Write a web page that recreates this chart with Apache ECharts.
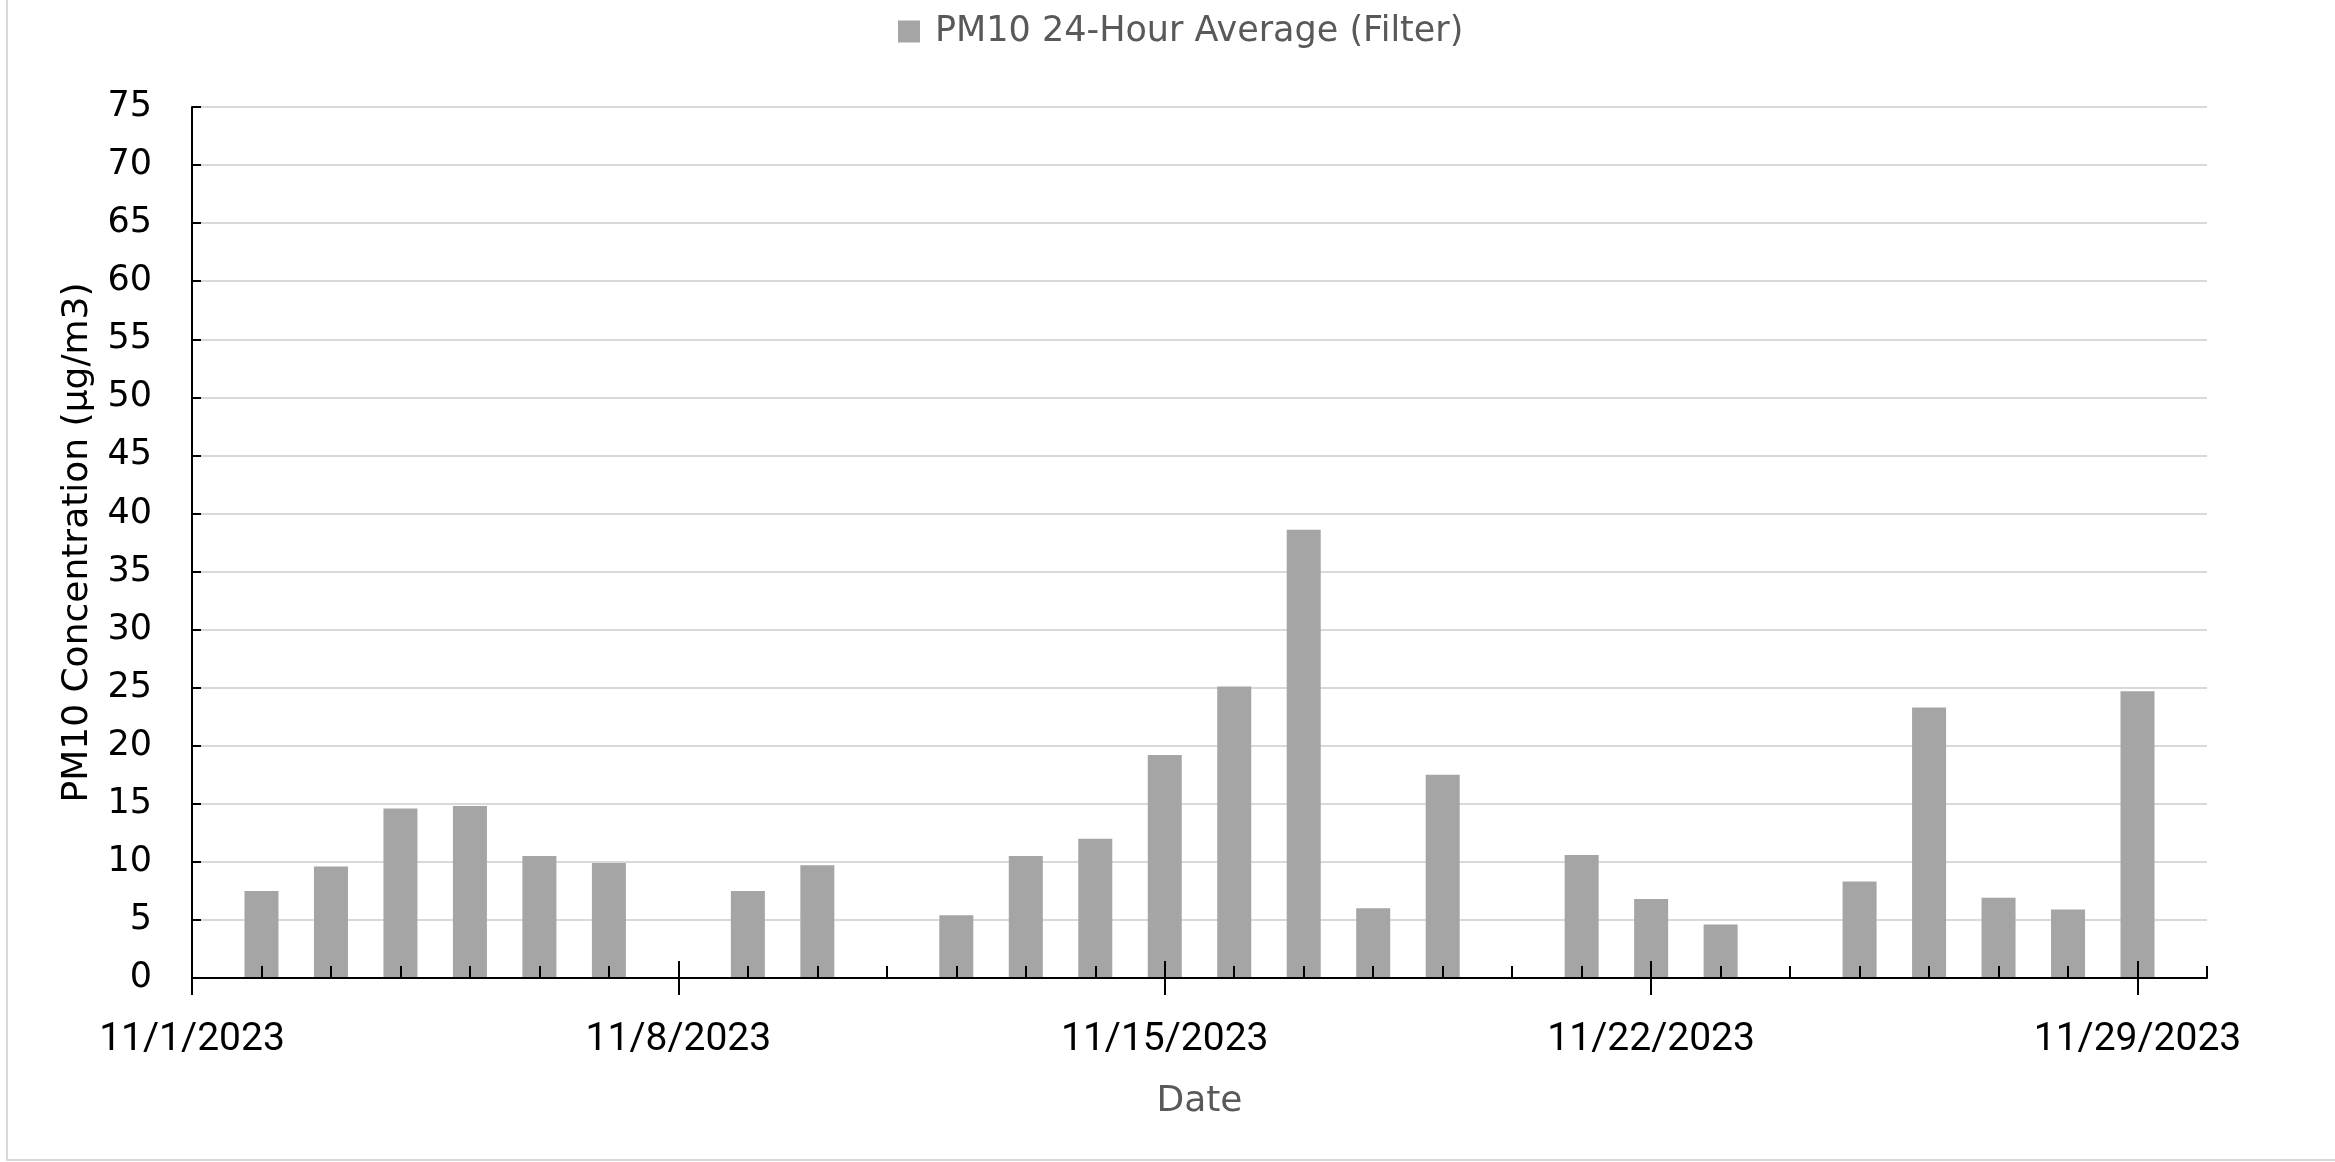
<!DOCTYPE html>
<html>
<head>
<meta charset="utf-8">
<script src="https://cdn.jsdelivr.net/npm/echarts@6/dist/echarts.min.js"></script>
<style>
    html, body { margin: 0; padding: 0; background: #fff; }
    #main { width: 2335px; height: 1162px; }
</style>
</head>
<body>
<div id="main"></div>
<script>
var dates = ['11/1/2023', '11/2/2023', '11/3/2023', '11/4/2023', '11/5/2023', '11/6/2023', '11/7/2023',
    '11/8/2023', '11/9/2023', '11/10/2023', '11/11/2023', '11/12/2023', '11/13/2023', '11/14/2023',
    '11/15/2023', '11/16/2023', '11/17/2023', '11/18/2023', '11/19/2023', '11/20/2023', '11/21/2023',
    '11/22/2023', '11/23/2023', '11/24/2023', '11/25/2023', '11/26/2023', '11/27/2023', '11/28/2023',
    '11/29/2023', '11/30/2023'];
var pm10 = [null, 7.5, 9.6, 14.6, 14.8, 10.5, 9.9,
    null, 7.5, 9.7, null, 5.4, 10.5, 12.0,
    19.2, 25.1, 38.6, 6.0, 17.5, null, 10.6,
    6.8, 4.6, null, 8.3, 23.3, 6.9, 5.9,
    24.7, null];
var seriesName = 'PM10 24-Hour Average (Filter)';

var myChart = echarts.init(document.getElementById('main'));

var gridBox = { left: 192, right: 128, top: 107, bottom: 184 };
var LABEL_EVERY = 7;
var TEXT_FONT = 'DejaVu Sans';

function isMajor(index) {
    return index % LABEL_EVERY === 0;
}

// Excel style date axis: daily ticks inside, weekly ticks crossing the line
function tickAxis(gridIndex, inside, length, interval) {
    return {
        type: 'category',
        gridIndex: gridIndex,
        data: dates,
        boundaryGap: false,
        z: 5,
        axisLine: { show: false },
        axisTick: {
            show: true, inside: inside, length: length, interval: interval,
            lineStyle: { color: '#000', width: 2 }
        },
        axisLabel: { show: false },
        splitLine: { show: false }
    };
}

function hiddenY(gridIndex) {
    return { type: 'value', gridIndex: gridIndex, min: 0, max: 75, show: false };
}

var option = {
    backgroundColor: '#fff',
    animation: false,
    graphic: [{
        type: 'rect',
        shape: { x: 7, y: -10, width: 2345, height: 1170 },
        style: { fill: 'none', stroke: '#d9d9d9', lineWidth: 2 },
        silent: true
    }],
    legend: {
        top: 9,
        left: 893,
        itemWidth: 22,
        itemHeight: 22,
        itemGap: 20,
        icon: 'rect',
        textStyle: { fontFamily: TEXT_FONT, fontSize: 35, color: '#595959', padding: [0, 0, 0, 10] },
        data: [seriesName]
    },
    grid: [gridBox, gridBox, gridBox],
    xAxis: [
        {
            type: 'category',
            gridIndex: 0,
            data: dates,
            boundaryGap: false,
            z: 5,
            name: 'Date',
            nameLocation: 'middle',
            nameGap: 106,
            nameTextStyle: { fontFamily: TEXT_FONT, fontSize: 36, color: '#595959', verticalAlign: 'top' },
            axisLine: { show: true, lineStyle: { color: '#000', width: 2 } },
            axisTick: {
                show: true, inside: false, length: 17, interval: LABEL_EVERY - 1,
                lineStyle: { color: '#000', width: 2 }
            },
            axisLabel: {
                interval: function (index) { return isMajor(index); },
                margin: 43,
                fontFamily: 'Liberation Sans Narrow, Roboto, sans-serif',
                fontSize: 39,
                color: '#000'
            },
            splitLine: { show: false }
        },
        tickAxis(1, true, 12, 0),
        tickAxis(2, true, 17, LABEL_EVERY - 1)
    ],
    yAxis: [
        {
            type: 'value',
            gridIndex: 0,
            min: 0,
            max: 75,
            interval: 5,
            name: 'PM10 Concentration (μg/m3)',
            nameLocation: 'middle',
            nameGap: 96,
            nameTextStyle: { fontFamily: TEXT_FONT, fontSize: 36, color: '#000' },
            axisLine: { show: true, lineStyle: { color: '#000', width: 2 } },
            axisTick: { show: true, inside: true, length: 9, lineStyle: { color: '#000', width: 2 } },
            axisLabel: { margin: 40, fontFamily: TEXT_FONT, fontSize: 35, color: '#000' },
            splitLine: { show: true, lineStyle: { color: '#d9d9d9', width: 2 } }
        },
        hiddenY(1),
        hiddenY(2)
    ],
    series: [{
        name: seriesName,
        type: 'bar',
        xAxisIndex: 0,
        yAxisIndex: 0,
        barWidth: 34,
        itemStyle: { color: '#a5a5a5' },
        data: pm10
    }]
};

myChart.setOption(option);
</script>
</body>
</html>
